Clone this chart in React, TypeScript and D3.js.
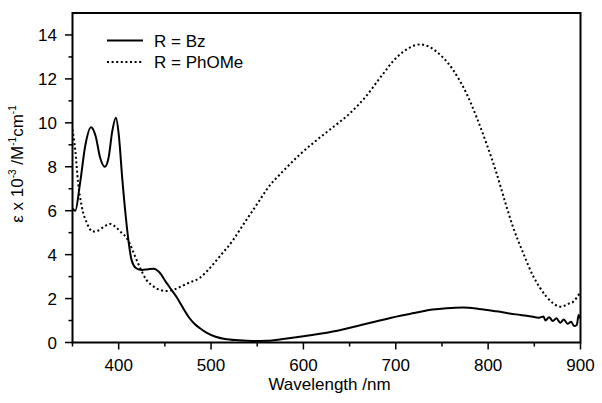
import React, { useRef, useEffect } from "react";
import * as d3 from "d3";

/* R = Bz : wavelength (nm) / epsilon x 1e-3 */
const bzWave = [350, 353, 358, 364, 370, 375, 380, 385, 389, 393, 397, 400, 404, 408, 411, 414, 419, 425, 432, 438, 444, 452, 458, 463, 470, 476, 482, 488, 495, 505, 515, 530, 545, 560, 580, 600, 632, 668, 705, 720, 740, 755, 773, 790, 809, 830, 845, 855, 860, 862, 866, 870, 874, 878, 882, 886, 890, 893, 896, 898, 900];
const bzEps = [6.1, 6.0, 7.2, 9.0, 9.8, 9.4, 8.4, 8.0, 8.4, 9.6, 10.23, 9.5, 7.4, 5.6, 4.5, 3.75, 3.38, 3.3, 3.34, 3.36, 3.2, 2.7, 2.35, 2.05, 1.55, 1.15, 0.85, 0.65, 0.45, 0.26, 0.16, 0.1, 0.07, 0.08, 0.17, 0.28, 0.5, 0.85, 1.22, 1.34, 1.5, 1.56, 1.59, 1.53, 1.42, 1.28, 1.2, 1.13, 1.18, 1.0, 1.15, 0.98, 1.1, 0.9, 1.05, 0.85, 0.95, 0.75, 0.8, 1.25, 1.1];

/* R = PhOMe */
const phWave = [350, 353, 356, 360, 366, 372, 378, 385, 391, 397, 403, 408, 412, 416, 421, 426, 430, 436, 441, 447, 452, 459, 466, 475, 488, 500, 509, 524, 533, 545, 553, 560, 578, 596, 614, 632, 650, 668, 683, 701, 715, 726, 738, 748, 757, 766, 777, 788, 798, 809, 818, 827, 838, 849, 856, 863, 870, 876, 880, 884, 888, 892, 896, 900];
const phEps = [9.7, 8.75, 7.3, 6.2, 5.4, 5.05, 5.1, 5.3, 5.4, 5.25, 5.0, 4.8, 4.5, 4.1, 3.6, 3.15, 2.85, 2.6, 2.46, 2.37, 2.34, 2.4, 2.52, 2.7, 2.95, 3.45, 3.9, 4.67, 5.25, 6.0, 6.5, 6.95, 7.8, 8.55, 9.2, 9.8, 10.42, 11.22, 12.05, 12.98, 13.42, 13.57, 13.42, 13.1, 12.7, 12.15, 11.3, 10.2, 9.08, 7.72, 6.45, 5.25, 4.07, 3.0, 2.5, 2.09, 1.8, 1.65, 1.63, 1.7, 1.78, 1.85, 2.05, 2.3];

const xMajor = [400, 500, 600, 700, 800, 900];
const xMinor = [350, 450, 550, 650, 750, 850];
const yMajor = [0, 2, 4, 6, 8, 10, 12, 14];
const yMinor = [1, 3, 5, 7, 9, 11, 13];

const legendLabels = ["R = Bz", "R = PhOMe"];

export default function App() {
  const svgRef = useRef<SVGSVGElement>(null);

  useEffect(() => {
    const W = 602;
    const H = 403;
    const L = 72.5, R = 580.5, T = 13, B = 342.5;
    const font = "'Liberation Sans', Arial, sans-serif";
    const fs = "17px";

    const x = d3.scaleLinear().domain([350, 900]).range([L, R]);
    const y = d3.scaleLinear().domain([0, 15]).range([B, T]);

    const svg = d3
      .select(svgRef.current)
      .attr("width", W)
      .attr("height", H)
      .style("background", "#fff")
      .style("font-family", font);
    svg.selectAll("*").remove();

    const line = d3
      .line<[number, number]>()
      .x((d) => x(d[0]))
      .y((d) => y(d[1]))
      .curve(d3.curveMonotoneX);

    const bz = bzWave.map((w, i) => [w, bzEps[i]] as [number, number]);
    const ph = phWave.map((w, i) => [w, phEps[i]] as [number, number]);

    svg.append("clipPath").attr("id", "plot").append("rect")
      .attr("x", L).attr("y", T).attr("width", R - L).attr("height", B - T);

    const g = svg.append("g").attr("clip-path", "url(#plot)");

    g.append("path")
      .datum(ph)
      .attr("d", line)
      .attr("fill", "none")
      .attr("stroke", "#000")
      .attr("stroke-width", 2)
      .attr("stroke-dasharray", "2 2.6");

    g.append("path")
      .datum(bz)
      .attr("d", line)
      .attr("fill", "none")
      .attr("stroke", "#000")
      .attr("stroke-width", 2);

    /* ---- frame ---- */
    svg.append("rect")
      .attr("x", L).attr("y", T).attr("width", R - L).attr("height", B - T)
      .attr("fill", "none").attr("stroke", "#000").attr("stroke-width", 2);

    /* ---- x ticks ---- */
    const xt = svg.append("g").attr("stroke", "#000").attr("stroke-width", 1.5);
    xt.selectAll("line.maj").data(xMajor).enter().append("line")
      .attr("x1", (d) => x(d)).attr("x2", (d) => x(d))
      .attr("y1", B).attr("y2", B + 7);
    xt.selectAll("line.min").data(xMinor).enter().append("line")
      .attr("x1", (d) => x(d)).attr("x2", (d) => x(d))
      .attr("y1", B).attr("y2", B + 4);

    svg.append("g").selectAll("text").data(xMajor).enter().append("text")
      .attr("x", (d) => x(d)).attr("y", B + 28.5)
      .attr("text-anchor", "middle")
      .style("font-size", fs)
      .text((d) => d);

    /* ---- y ticks ---- */
    const yt = svg.append("g").attr("stroke", "#000").attr("stroke-width", 1.5);
    yt.selectAll("line.maj").data(yMajor).enter().append("line")
      .attr("x1", L).attr("x2", L - 7.5)
      .attr("y1", (d) => y(d)).attr("y2", (d) => y(d));
    yt.selectAll("line.min").data(yMinor).enter().append("line")
      .attr("x1", L).attr("x2", L - 4)
      .attr("y1", (d) => y(d)).attr("y2", (d) => y(d));

    svg.append("g").selectAll("text").data(yMajor).enter().append("text")
      .attr("x", L - 15.5).attr("y", (d) => y(d)).attr("dy", "0.36em")
      .attr("text-anchor", "end")
      .style("font-size", fs)
      .text((d) => d);

    /* ---- axis titles ---- */
    svg.append("text")
      .attr("x", (L + R) / 2 + 3).attr("y", 390)
      .attr("text-anchor", "middle")
      .style("font-size", fs)
      .text("Wavelength /nm");

    const yl = svg.append("text")
      .attr("transform", "translate(23,164) rotate(-90)")
      .attr("text-anchor", "middle")
      .style("font-size", fs);
    yl.append("tspan").text("ε x 10");
    yl.append("tspan").attr("dy", -7).style("font-size", "10px").text("-3");
    yl.append("tspan").attr("dy", 7).text(" /M");
    yl.append("tspan").attr("dy", -7).style("font-size", "10px").text("-1");
    yl.append("tspan").attr("dy", 7).text("cm");
    yl.append("tspan").attr("dy", -7).style("font-size", "10px").text("-1");

    /* ---- legend ---- */
    const lg = svg.append("g");
    legendLabels.forEach((lab, i) => {
      const ly = 40.5 + i * 21.5;
      lg.append("line")
        .attr("x1", 107).attr("x2", 143).attr("y1", ly).attr("y2", ly)
        .attr("stroke", "#000").attr("stroke-width", 2)
        .attr("stroke-dasharray", i === 1 ? "2 2.6" : null);
      lg.append("text")
        .attr("x", 154).attr("y", ly + 6.2)
        .style("font-size", fs)
        .text(lab);
    });
  }, []);

  return <svg ref={svgRef} style={{ position: "absolute", left: 0, top: 0 }} />;
}
